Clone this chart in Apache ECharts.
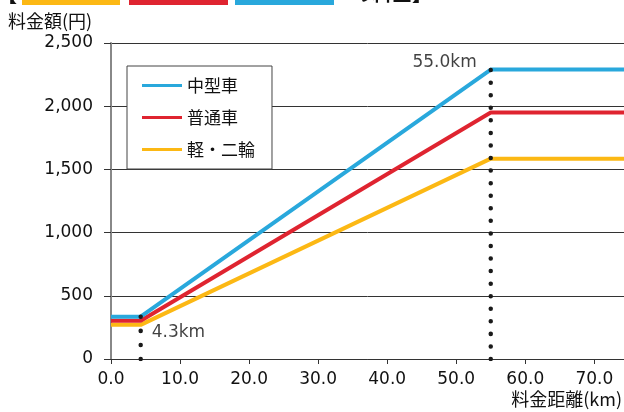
<!DOCTYPE html>
<html><head><meta charset="utf-8">
<script src="https://cdn.jsdelivr.net/npm/echarts@6/dist/echarts.min.js"></script>
<style>html,body{margin:0;padding:0;background:#fff}#c{width:624px;height:412px}</style>
</head><body><div id="c"></div>
<script>
const seriesNames = ['中型車', '普通車', '軽・二輪'];
const seriesColors = ['#29a8dc', '#df2430', '#fcb814'];
const distances = [0, 4.3, 55.0, 74.3];
const fareMid = [335, 335, 2290, 2290];
const fareStd = [303, 303, 1950, 1950];
const fareLight = [270, 270, 1585, 1585];
const breakLabels = ['4.3km', '55.0km'];
const xTicks = [0, 10, 20, 30, 40, 50, 60, 70];
const yTicks = [0, 500, 1000, 1500, 2000, 2500];

const FONT = 'DejaVu Sans, Noto Sans CJK JP, sans-serif';
const JFONT = 'Noto Sans CJK JP, DejaVu Sans, sans-serif';
const fares = [fareMid, fareStd, fareLight];

const lineSeries = seriesNames.map((n, i) => ({
  name: n, type: 'line', symbol: 'none', silent: true, z: 3 - i + 2,
  lineStyle: { color: seriesColors[i], width: 4 },
  itemStyle: { color: seriesColors[i] },
  data: distances.map((d, k) => [d, fares[i][k]])
}));

const dotBase = { cap: 'round', width: 4.5, color: '#1a1a1a' };
const dotSeries = [
  { type: 'line', symbol: 'none', silent: true, z: 10, lineStyle: Object.assign({ type: [0.01, 14.05] }, dotBase),
    data: [[distances[1], 0], [distances[1], fareMid[1]]] },
  { type: 'line', symbol: 'none', silent: true, z: 10, lineStyle: Object.assign({ type: [0.01, 12.55] }, dotBase),
    data: [[distances[2], 0], [distances[2], fareMid[2]]] }
];

const labelSeries = [
  { type: 'scatter', symbolSize: 0.1, silent: true, z: 11,
    data: [{ value: [distances[1], fareMid[1]], label: { show: true, formatter: breakLabels[0], position: 'right', distance: 0, offset: [11, 16] } },
           { value: [distances[2], fareMid[2]], label: { show: true, formatter: breakLabels[1], position: 'left', distance: 0, offset: [-14, -7] } }],
    label: { color: '#111', fontSize: 17, fontFamily: FONT }
  }
];

const chart = echarts.init(document.getElementById('c'), null, { renderer: 'canvas' });
chart.setOption({
  animation: false,
  backgroundColor: '#fff',
  grid: { left: 111, right: 0, top: 43, bottom: 53, containLabel: false },
  xAxis: {
    type: 'value', min: 0, max: distances[3], interval: 10,
    axisLine: { show: true, lineStyle: { color: '#333', width: 1 } },
    axisTick: { show: true, length: 5, lineStyle: { color: '#333' }, customValues: xTicks },
    splitLine: { show: false },
    axisLabel: { color: '#111', fontSize: 17, fontFamily: FONT, margin: 12,
      customValues: xTicks, formatter: v => v.toFixed(1) }
  },
  yAxis: {
    type: 'value', min: 0, max: 2500, interval: 500,
    axisLine: { show: true, lineStyle: { color: '#888', width: 2 } },
    axisTick: { show: true, length: 7, lineStyle: { color: '#333' }, customValues: yTicks },
    splitLine: { show: true, lineStyle: { color: '#333', width: 1 } },
    axisLabel: { color: '#111', fontSize: 17, fontFamily: FONT, margin: 18,
      customValues: yTicks, formatter: v => v.toLocaleString('en-US') }
  },
  legend: {
    data: seriesNames, orient: 'vertical', left: 127, top: 66,
    backgroundColor: '#fff', borderColor: '#444', borderWidth: 1,
    padding: [11, 17, 11, 15], itemGap: 15, itemWidth: 40, itemHeight: 3,
    icon: 'rect', textStyle: { color: '#111', fontSize: 17, fontFamily: JFONT }
  },
  graphic: [
    { type: 'rect', shape: { x: 22, y: 0, width: 98, height: 5 }, style: { fill: '#fcb814' } },
    { type: 'rect', shape: { x: 129, y: 0, width: 99, height: 5 }, style: { fill: '#df2430' } },
    { type: 'rect', shape: { x: 235, y: 0, width: 99, height: 5 }, style: { fill: '#29a8dc' } },
    { type: 'text', left: -3, top: -16, style: { text: '【', fill: '#111', font: 'bold 20px ' + JFONT } },
    { type: 'text', left: 352, top: -17, style: { text: 'の料金】', fill: '#111', font: 'bold 20px ' + JFONT } },
    { type: 'text', left: 8, top: 12, style: { text: '料金額(円)', fill: '#111', font: '18px ' + JFONT } },
    { type: 'text', right: 2, top: 390, style: { text: '料金距離(km)', fill: '#111', font: '18px ' + JFONT } }
  ],
  series: [...lineSeries, ...dotSeries, ...labelSeries]
});
</script></body></html>
